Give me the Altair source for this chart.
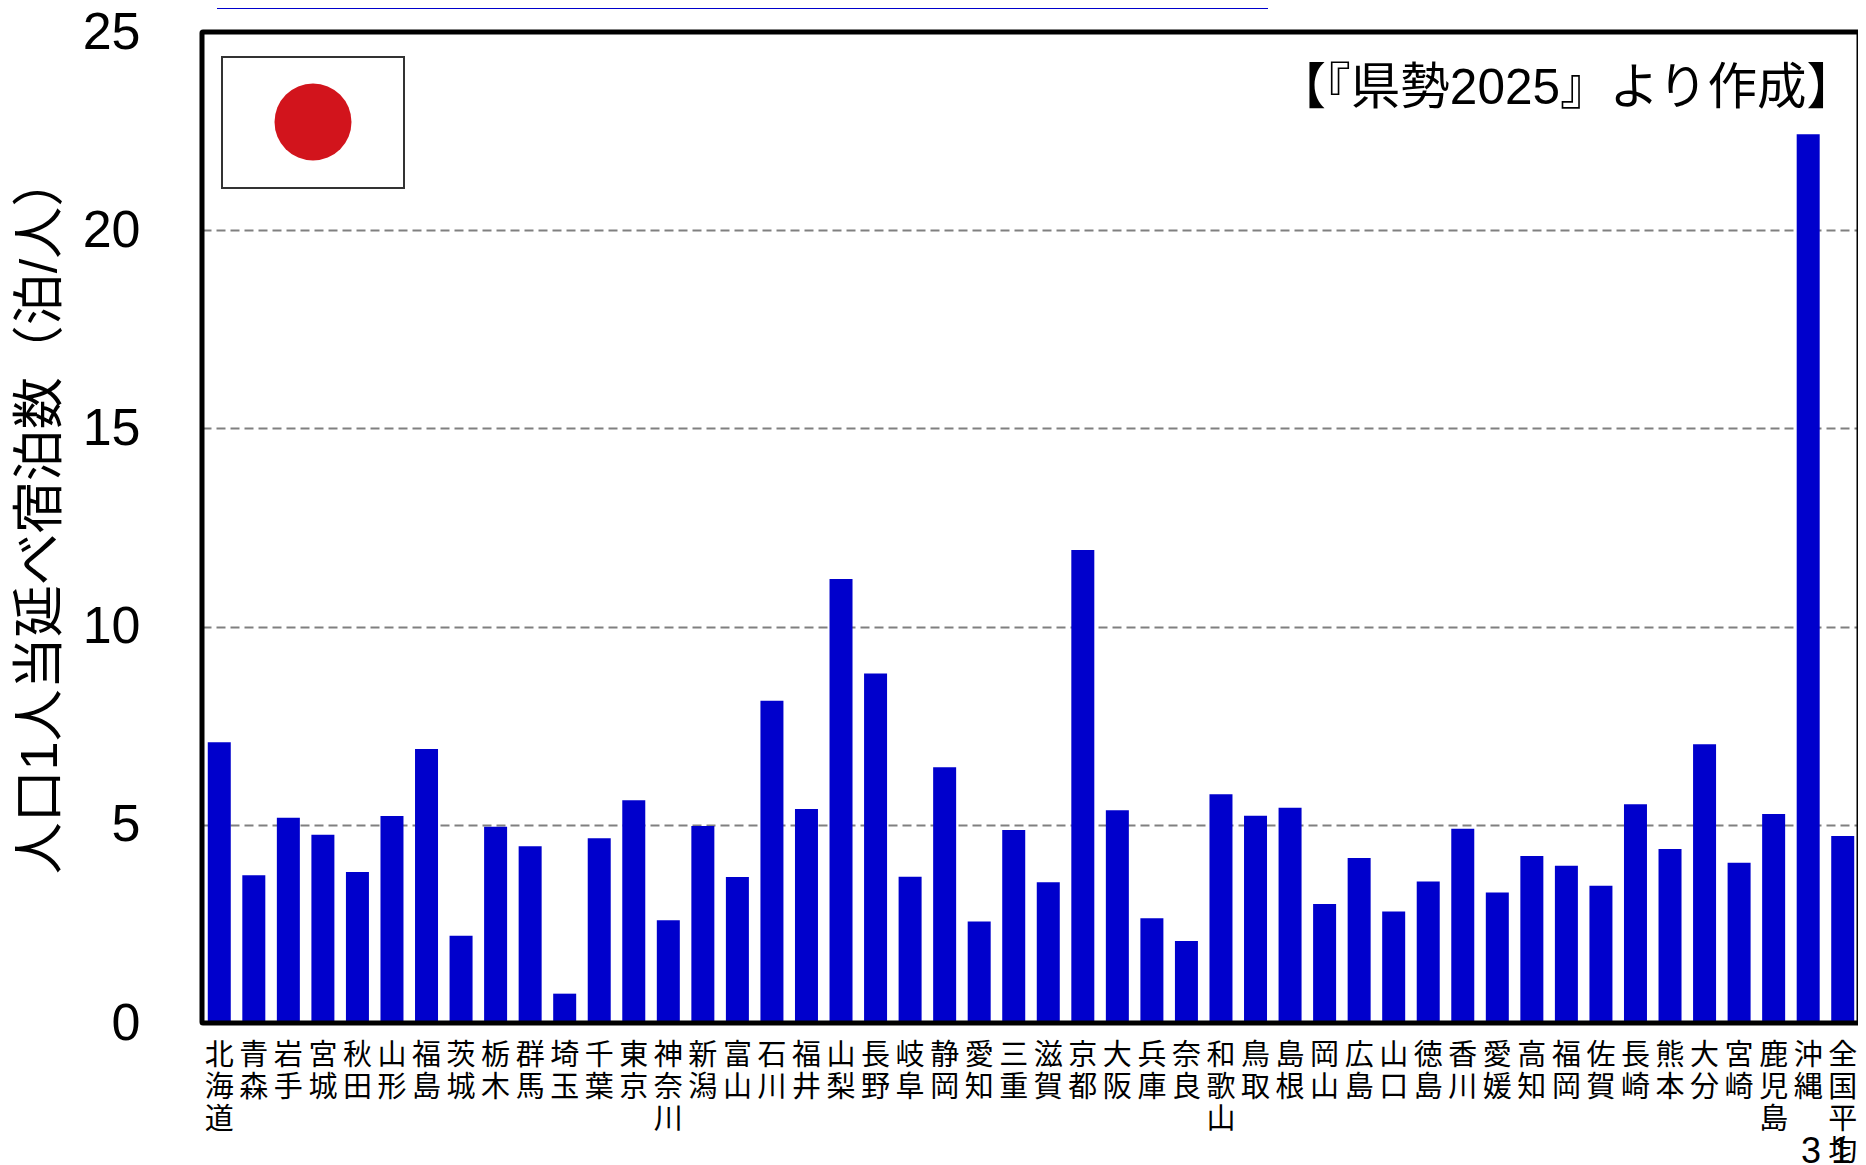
import altair as alt
import pandas as pd

prefectures = ["北海道","青森","岩手","宮城","秋田","山形","福島","茨城","栃木","群馬","埼玉","千葉","東京","神奈川","新潟","富山",
               "石川","福井","山梨","長野","岐阜","静岡","愛知","三重","滋賀","京都","大阪","兵庫","奈良","和歌山","鳥取","島根",
               "岡山","広島","山口","徳島","香川","愛媛","高知","福岡","佐賀","長崎","熊本","大分","宮崎","鹿児島","沖縄","全国平均"]
nights = [7.08,3.73,5.18,4.75,3.81,5.22,6.91,2.20,4.95,4.46,0.74,4.66,5.62,2.59,4.97,3.68,
          8.13,5.40,11.20,8.82,3.69,6.45,2.56,4.87,3.55,11.93,5.37,2.64,2.07,5.77,5.23,5.43,
          3.00,4.16,2.81,3.57,4.90,3.29,4.21,3.97,3.46,5.52,4.39,7.03,4.04,5.27,22.42,4.72]
y_ticks = [0,5,10,15,20,25]
y_title = "人口1人当延べ宿泊数（泊/人）"
source_note = "【『県勢2025』より作成】"
page_no = "3 1"

FONT = "Liberation Sans, Noto Sans CJK JP"
W, H = 1656, 991
BAND_END = 1658
one = alt.Data(values=[{"a": 1}])

df = pd.DataFrame({"pref": prefectures, "v": nights})
bars = alt.Chart(df).mark_bar(color="#0000CC", size=23).encode(
    x=alt.X("pref:N", sort=prefectures, title=None,
            scale=alt.Scale(paddingInner=0.33, paddingOuter=0.165, range=[0, BAND_END]),
            axis=alt.Axis(labelAngle=0, labelFontSize=29, labelFont=FONT, labelColor="black",
                          labelExpr="split(datum.label, '')", labelLineHeight=32,
                          labelBaseline="top", labelAlign="center", labelPadding=18, tickSize=0,
                          domain=False, grid=False, labelOverlap=False, labelLimit=0, labelBound=False, labelFlush=False)),
    y=alt.Y("v:Q", title=y_title, scale=alt.Scale(domain=[0,25], nice=False),
            axis=alt.Axis(values=y_ticks, format="d", labelFontSize=52, labelFont=FONT, labelColor="black",
                          labelPadding=62, tickSize=0, domain=False, grid=True, gridColor="#808080",
                          gridWidth=1.8, gridDash=[9,5], titleFont=FONT, titleFontSize=52, titleFontWeight="normal",
                          titleColor="black", titleAngle=270, titleX=-162, titleY=482, titleBaseline="middle",
                          titleAlign="center", labelBound=False, labelOverlap=False)),
)

frame = alt.Chart(one).mark_rect(fill=None, stroke="black", strokeWidth=5, cornerRadius=1, clip=False).encode(
    x=alt.value(0), x2=alt.value(W + 1), y=alt.value(0), y2=alt.value(H))
top_band = alt.Chart(one).mark_rect(color="#0000CC", clip=False).encode(
    x=alt.value(15), x2=alt.value(1066), y=alt.value(-24), y2=alt.value(-23))
flag = alt.Chart(one).mark_rect(fill="white", stroke="#333333", strokeWidth=2).encode(
    x=alt.value(20), x2=alt.value(202), y=alt.value(25), y2=alt.value(156))
sun = alt.Chart(one).mark_point(filled=True, color="#D2141C", opacity=1, shape="circle", size=5929).encode(
    x=alt.value(111), y=alt.value(90))
note = alt.Chart(one).mark_text(text=source_note, font=FONT, fontSize=49.5, align="right", baseline="middle", color="black").encode(
    x=alt.value(1654), y=alt.value(57))
page = alt.Chart(one).mark_text(text=page_no, font=FONT, fontSize=36, align="center", baseline="alphabetic", color="black").encode(
    x=alt.value(1624), y=alt.value(1131))

chart = alt.layer(bars, frame, top_band, flag, sun, note, page).properties(
    width=W, height=H, autosize=alt.AutoSizeParams(type="none"),
    padding={"left":194,"top":24,"right":0,"bottom":142}, background="white"
).configure_view(stroke=None)

chart.save("out.html", embed_options={"renderer": "svg", "actions": False})
